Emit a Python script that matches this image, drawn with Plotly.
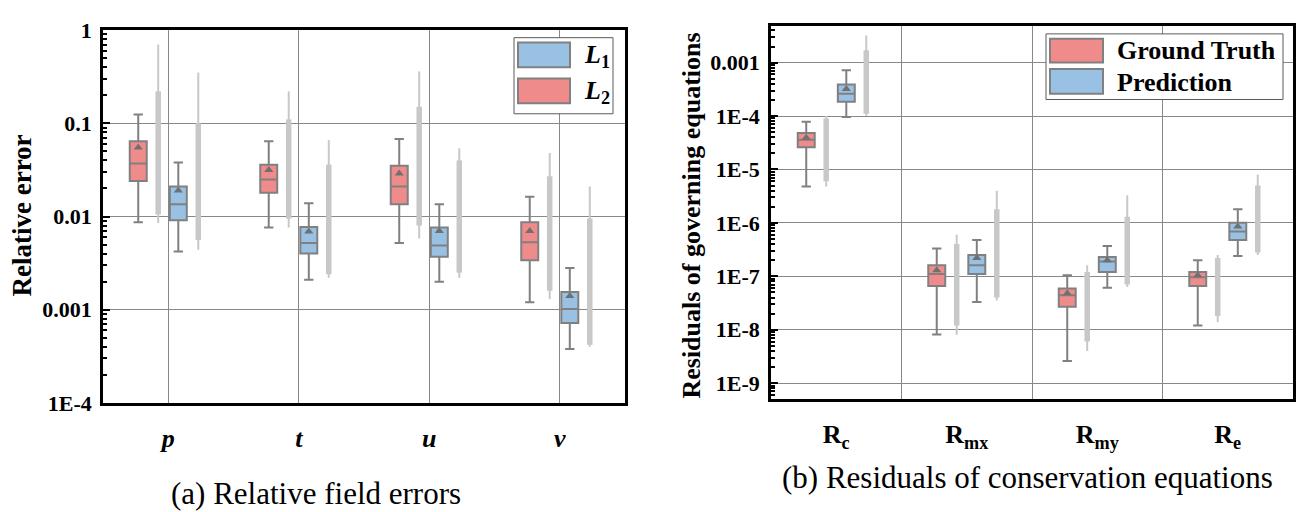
import plotly.graph_objects as go

W, H = 1303, 512

# ---------------- data: (a) relative field errors ----------------
fields = ["p", "t", "u", "v"]
# L2 (red) box statistics
l2_q1 = [0.024, 0.018, 0.0135, 0.0034]
l2_med = [0.037, 0.025, 0.021, 0.0053]
l2_q3 = [0.064, 0.036, 0.035, 0.0087]
l2_lo = [0.0087, 0.0076, 0.0052, 0.0012]
l2_hi = [0.124, 0.064, 0.068, 0.0163]
l2_mean = [0.055, 0.0316, 0.029, 0.0070]
# L1 (blue) box statistics
l1_q1 = [0.0091, 0.0040, 0.0037, 0.00072]
l1_med = [0.0135, 0.0052, 0.0049, 0.00102]
l1_q3 = [0.021, 0.0077, 0.0076, 0.00155]
l1_lo = [0.0042, 0.0021, 0.0020, 0.00038]
l1_hi = [0.038, 0.0139, 0.0135, 0.0028]
l1_mean = [0.019, 0.0069, 0.0070, 0.0014]
# sample clouds: [tail_lo, core_lo, core_hi, tail_hi]
l2_cloud = [[0.0085, 0.0105, 0.22, 0.7],
            [0.0076, 0.0095, 0.11, 0.22],
            [0.0058, 0.0080, 0.15, 0.36],
            [0.0013, 0.0016, 0.027, 0.048]]
l1_cloud = [[0.0044, 0.0056, 0.10, 0.35],
            [0.0022, 0.0024, 0.036, 0.066],
            [0.0022, 0.0025, 0.040, 0.054],
            [0.00040, 0.00042, 0.0095, 0.021]]

# ---------------- data: (b) residuals ----------------
eqs = ["R<sub>c</sub>", "R<sub>mx</sub>", "R<sub>my</sub>", "R<sub>e</sub>"]
gt_q1 = [2.6e-5, 6.6e-8, 2.7e-8, 6.6e-8]
gt_med = [3.6e-5, 1.1e-7, 4.4e-8, 9.6e-8]
gt_q3 = [4.8e-5, 1.6e-7, 5.9e-8, 1.2e-7]
gt_lo = [4.8e-6, 8.1e-9, 2.6e-9, 1.2e-8]
gt_hi = [7.8e-5, 3.3e-7, 1.05e-7, 2.0e-7]
gt_mean = [3.9e-5, 1.3e-7, 4.8e-8, 1.05e-7]
pr_q1 = [1.85e-4, 1.1e-7, 1.2e-7, 4.8e-7]
pr_med = [2.6e-4, 1.6e-7, 1.9e-7, 6.9e-7]
pr_q3 = [3.9e-4, 2.5e-7, 2.3e-7, 1.0e-6]
pr_lo = [9.6e-5, 3.3e-8, 6.1e-8, 2.4e-7]
pr_hi = [7.2e-4, 4.8e-7, 3.7e-7, 1.8e-6]
pr_mean = [3.2e-4, 2.2e-7, 2.0e-7, 8.5e-7]
gt_cloud = [[4.8e-6, 6e-6, 9e-5, 1.0e-4],
            [8e-9, 1.2e-8, 4e-7, 6e-7],
            [4e-9, 6e-9, 1.2e-7, 1.6e-7],
            [1.4e-8, 1.8e-8, 2.2e-7, 2.5e-7]]
pr_cloud = [[1.0e-4, 1.1e-4, 1.7e-3, 3.2e-3],
            [3.5e-8, 4e-8, 1.8e-6, 4e-6],
            [6.3e-8, 7e-8, 1.3e-6, 3.3e-6],
            [2.5e-7, 2.8e-7, 5e-6, 8e-6]]

RED = "rgb(240,139,139)"
BLUE = "rgb(152,193,227)"
EDGE = "rgb(128,128,128)"
CLOUD = "rgb(200,200,200)"
FONT = "Liberation Serif, Times New Roman, Tinos, DejaVu Serif, serif"
OFF = [-0.23, -0.077, 0.077, 0.23]

fig = go.Figure()


def add_group(xa, ya, q1, med, q3, lo, hi, mean, cloud, color, off_box, off_cloud):
    n = len(q1)
    xs = [i + off_box for i in range(n)]
    fig.add_trace(go.Box(
        x=xs, q1=q1, median=med, q3=q3, lowerfence=lo, upperfence=hi,
        width=0.13, whiskerwidth=0.55, fillcolor=color,
        line=dict(color=EDGE, width=2), boxpoints=False,
        xaxis=xa, yaxis=ya, showlegend=False, hoverinfo="skip"))
    fig.add_trace(go.Scatter(
        x=xs, y=mean, mode="markers",
        marker=dict(symbol="triangle-up", size=8, color="rgb(112,112,112)"),
        xaxis=xa, yaxis=ya, showlegend=False, hoverinfo="skip"))
    tx, ty, cx, cy = [], [], [], []
    for i, c in enumerate(cloud):
        x = i + off_cloud
        tx += [x, x, None]
        ty += [c[0], c[3], None]
        cx += [x, x, None]
        cy += [c[1], c[2], None]
    fig.add_trace(go.Scatter(x=tx, y=ty, mode="lines", line=dict(color=CLOUD, width=2),
                             xaxis=xa, yaxis=ya, showlegend=False, hoverinfo="skip"))
    fig.add_trace(go.Scatter(x=cx, y=cy, mode="lines", line=dict(color=CLOUD, width=5.5),
                             xaxis=xa, yaxis=ya, showlegend=False, hoverinfo="skip"))


add_group("x", "y", l2_q1, l2_med, l2_q3, l2_lo, l2_hi, l2_mean, l2_cloud, RED, OFF[0], OFF[1])
add_group("x", "y", l1_q1, l1_med, l1_q3, l1_lo, l1_hi, l1_mean, l1_cloud, BLUE, OFF[2], OFF[3])
add_group("x2", "y2", gt_q1, gt_med, gt_q3, gt_lo, gt_hi, gt_mean, gt_cloud, RED, OFF[0], OFF[1])
add_group("x2", "y2", pr_q1, pr_med, pr_q3, pr_lo, pr_hi, pr_mean, pr_cloud, BLUE, OFF[2], OFF[3])


def px(x):
    return x / W


def py(y):
    return 1 - y / H


tickfont = dict(family=FONT, size=22, color="black", weight="bold")
common_y = dict(type="log", showline=True, linecolor="black", linewidth=2.5, mirror=True,
                showgrid=True, gridcolor="rgb(136,136,136)", gridwidth=1,
                ticks="inside", ticklen=7, tickwidth=1.5, tickcolor="black",
                minor=dict(ticks="inside", ticklen=4, tickcolor="black", dtick="D1", showgrid=False),
                tickfont=tickfont, zeroline=False, ticklabelstandoff=4)
common_x = dict(range=[-0.5, 3.5], showline=True, linecolor="black", linewidth=2.5, mirror=True,
                ticks="", tickvals=[0, 1, 2, 3], zeroline=False,
                tickfont=dict(family=FONT, size=26, color="black"), ticklabelstandoff=10)

fig.update_layout(
    width=W, height=H, margin=dict(l=0, r=0, t=0, b=0),
    plot_bgcolor="white", paper_bgcolor="white", boxmode="overlay",
    font=dict(family=FONT, color="black"),
    xaxis=dict(common_x, domain=[px(103), px(625)], anchor="y",
               ticktext=[f"<b><i>{f}</i></b>" for f in fields],
               showgrid=True, gridcolor="rgb(136,136,136)", gridwidth=1),
    yaxis=dict(common_y, domain=[py(411), py(19)], anchor="x", range=[-4, 0],
               tickvals=[1e-4, 1e-3, 1e-2, 1e-1, 1],
               ticktext=["1E-4", "0.001", "0.01", "0.1", "1"]),
    xaxis2=dict(common_x, domain=[px(771), px(1293)], anchor="y2",
                ticktext=[f"<b>{e}</b>" for e in eqs], showgrid=False,
                minor=dict(tickvals=[0.5, 1.5, 2.5], showgrid=True,
                           gridcolor="rgb(136,136,136)", gridwidth=1, ticks="")),
    yaxis2=dict(common_y, domain=[py(407), py(15)], anchor="x2", range=[-9.30, -2.32],
                tickvals=[1e-9, 1e-8, 1e-7, 1e-6, 1e-5, 1e-4, 1e-3],
                ticktext=["1E-9", "1E-8", "1E-7", "1E-6", "1E-5", "1E-4", "0.001"]),
)

shapes = []
annotations = []


def rect(x0, y0, x1, y1, fill, line_color, lw):
    shapes.append(dict(type="rect", xref="paper", yref="paper",
                       x0=px(x0), x1=px(x1), y0=py(y1), y1=py(y0),
                       fillcolor=fill, line=dict(color=line_color, width=lw)))


def text(x, y, s, size, xanchor="center", angle=0):
    annotations.append(dict(x=px(x), y=py(y), xref="paper", yref="paper", xanchor=xanchor,
                            yanchor="middle", showarrow=False, text=s, textangle=angle,
                            font=dict(family=FONT, size=size, color="black")))


# legend (a)
rect(514, 27, 613, 107, "white", "rgb(90,90,90)", 1)
rect(518, 32, 570, 58, BLUE, EDGE, 2)
rect(518, 70, 570, 96, RED, EDGE, 2)
text(582, 46, "<b><i>L</i><sub>1</sub></b>", 26, "left")
text(582, 84, "<b><i>L</i><sub>2</sub></b>", 26, "left")
# legend (b)
rect(1046, 23, 1283, 92, "white", "rgb(90,90,90)", 1)
rect(1050, 28, 1103, 53, RED, EDGE, 2)
rect(1050, 60, 1103, 86, BLUE, EDGE, 2)
text(1115, 41, "<b>Ground Truth</b>", 26, "left")
text(1115, 74, "<b>Prediction</b>", 26, "left")
# y titles
text(22, 214, "<b>Relative error</b>", 27, angle=-90)
text(692, 214, "<b>Residuals of governing equations</b>", 26, angle=-90)
# subtitles
text(316, 506, "(a) Relative field errors", 31)
text(1027, 489, "(b) Residuals of conservation equations", 31)

fig.update_layout(shapes=shapes, annotations=annotations)
fig.write_html("out.html")
